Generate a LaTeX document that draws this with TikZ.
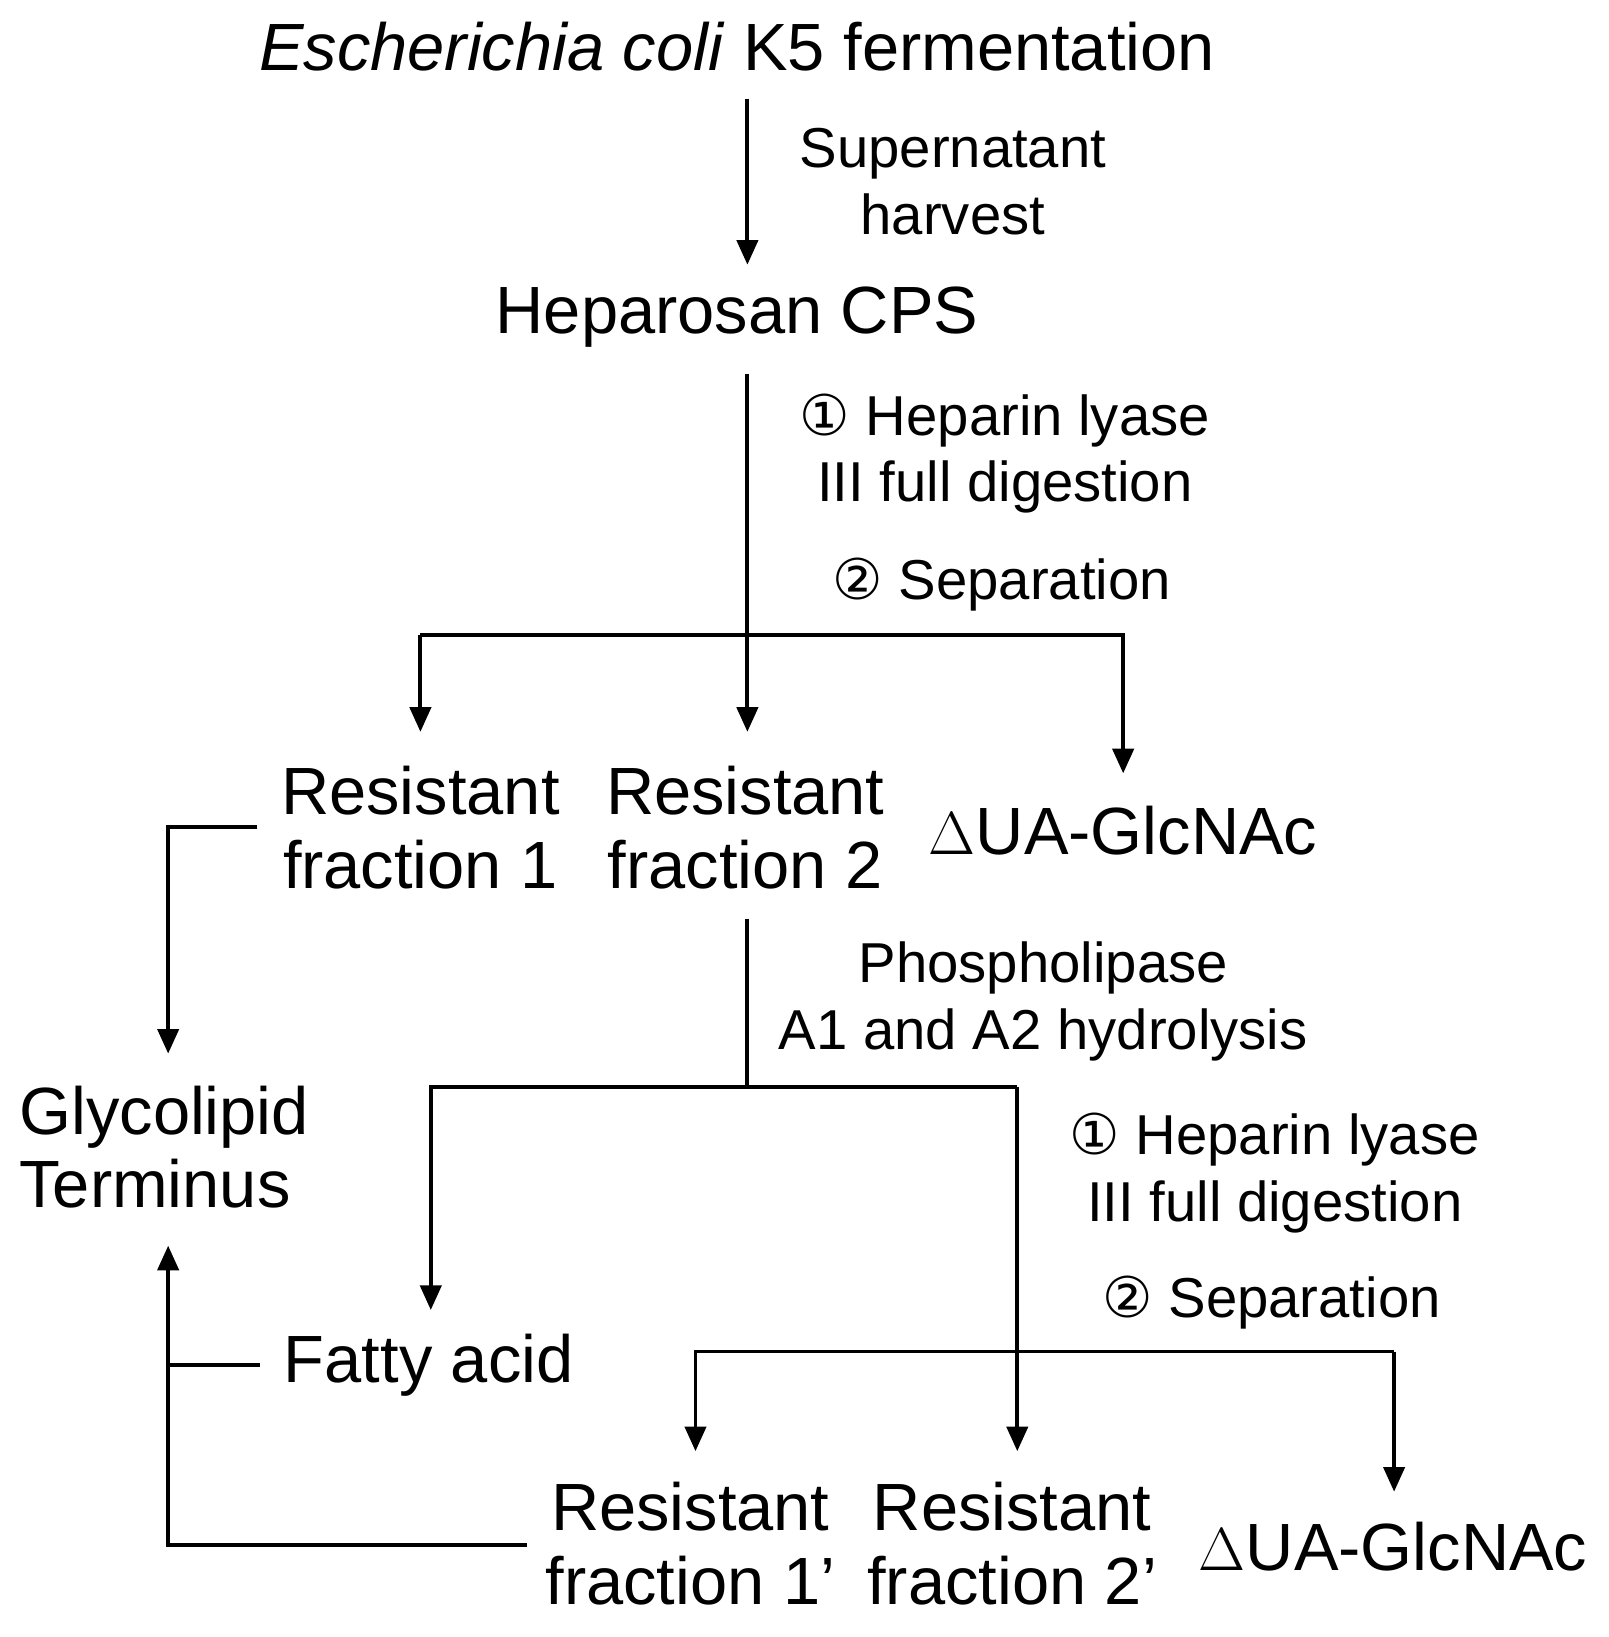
\documentclass[tikz,border=0pt]{standalone}
\usepackage{fontspec}
\setmainfont{Liberation Sans}
\newfontfamily\cfont{DejaVu Sans}
\usetikzlibrary{arrows.meta}
\begin{document}
\begin{tikzpicture}[x=0.01038cm,y=-0.01038cm,
  big/.style={font=\fontsize{19}{21}\selectfont,align=center,inner sep=0},
  small/.style={font=\fontsize{16}{19}\selectfont,align=center,inner sep=0},
  ln/.style={line width=1.1pt},
  ar/.style={ln,-{Triangle[length=7pt,width=6pt]}}]
\useasboundingbox (0,0) rectangle (1550,1577);
\newcommand{\ca}{{\cfont\char"2460}}
\newcommand{\cb}{{\cfont\char"2461}}
% nodes
\node[big] (ec) at (710,45) {\textit{Escherichia coli} K5 fermentation};
\node[small] (l1) at (918,175) {Supernatant\\harvest};
\node[big] (hc) at (710,305) {Heparosan CPS};
\node[small] (l2) at (968,437) {\ca\ Heparin lyase\\III full digestion};
\node[small] (l3) at (965,563) {\cb\ Separation};
\node[big] (r1) at (405,797) {Resistant\\fraction 1};
\node[big] (r2) at (718,797) {Resistant\\fraction 2};
\node[big] (ua1) at (1082,800) {$\Delta$UA-GlcNAc};
\node[big,align=left,anchor=west] (gt) at (18,1105) {Glycolipid\\Terminus};
\node[small] (l4) at (1005,965) {Phospholipase\\A1 and A2 hydrolysis};
\node[small] (l5) at (1228,1130) {\ca\ Heparin lyase\\III full digestion};
\node[small] (l6) at (1225,1255) {\cb\ Separation};
\node[big] (fa) at (413,1315) {Fatty acid};
\node[big] (r1p) at (665,1487) {Resistant\\fraction 1'};
\node[big] (r2p) at (975,1487) {Resistant\\fraction 2'};
\node[big] (ua2) at (1342,1490) {$\Delta$UA-GlcNAc};
% coordinates
\coordinate (a0) at (720,95); \coordinate (a1) at (720,255);
\coordinate (b0) at (720,360); \coordinate (b1) at (720,705);
\coordinate (h1) at (405,612); \coordinate (h2) at (1082,612);
\coordinate (c1) at (405,705); \coordinate (c2) at (1082,745);
\coordinate (d0) at (248,797); \coordinate (d1) at (162,797); \coordinate (d2) at (162,1015);
\coordinate (e0) at (720,885); \coordinate (e1) at (720,1047);
\coordinate (f1) at (415,1047); \coordinate (f2) at (980,1047);
\coordinate (f3) at (415,1262); \coordinate (f4) at (980,1398);
\coordinate (g1) at (670,1302); \coordinate (g2) at (1343,1302);
\coordinate (g3) at (670,1398); \coordinate (g4) at (1343,1437);
\coordinate (k0) at (250,1315); \coordinate (k1) at (162,1315);
\coordinate (m0) at (508,1488); \coordinate (m1) at (162,1488); \coordinate (m2) at (162,1200);
% connectors
\draw[ar] (a0) -- (a1);
\draw[ar] (b0) -- (b1);
\draw[ar] (h1) -- (h2) -- (c2);
\draw[ar] (h1) -- (c1);
\draw[ar] (d0) -- (d1) -- (d2);
\draw[ln] (e0) -- (e1);
\draw[ar] (f2) -- (f1) -- (f3);
\draw[ar] (f2) -- (f4);
\draw[ar] (g2) -- (g1) -- (g3);
\draw[ar] (g2) -- (g4);
\draw[ln] (k0) -- (k1);
\draw[ar] (m0) -- (m1) -- (m2);
\end{tikzpicture}
\end{document}
